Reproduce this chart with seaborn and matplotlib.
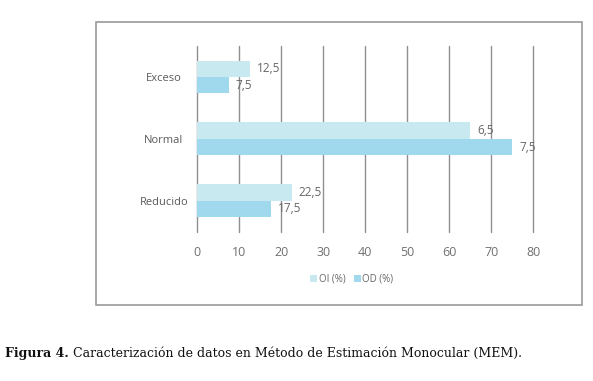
import matplotlib
matplotlib.use("Agg")
import matplotlib.pyplot as plt
import seaborn as sns
import pandas as pd
from matplotlib.patches import Rectangle, Patch

categories = ["Exceso", "Normal", "Reducido"]
oi_values = [12.5, 65, 22.5]
od_values = [7.5, 75, 17.5]
oi_labels = ["12,5", "6,5", "22,5"]
od_labels = ["7,5", "7,5", "17,5"]
series_names = ["OI (%)", "OD (%)"]
x_ticks = [0, 10, 20, 30, 40, 50, 60, 70, 80]
caption_bold = "Figura 4."
caption_text = " Caracterización de datos en Método de Estimación Monocular (MEM)."

sns.set_theme(style="white")
plt.rcParams['font.family'] = ['Open Sans', 'DejaVu Sans']

df = pd.DataFrame({
    "cat": categories * 2,
    "val": oi_values + od_values,
    "serie": [series_names[0]] * 3 + [series_names[1]] * 3,
})
colors = {series_names[0]: "#c8e9f0", series_names[1]: "#a0d9ee"}

W, H = 593, 381
fig = plt.figure(figsize=(W / 100, H / 100), dpi=100)
ax = fig.add_axes([197.3 / W, 1 - 231.7 / H, (533.3 - 197.3) / W, (231.7 - 46) / H])

sns.barplot(data=df, y="cat", x="val", hue="serie", orient="h", palette=colors,
            width=0.53, saturation=1, ax=ax, legend=False, linewidth=0, edgecolor="none")

ax.set_xlim(0, 80)
ax.set_ylim(2.5, -0.5)
ax.set_xticks(x_ticks)
ax.set_xlabel("")
ax.set_ylabel("")
for s in ax.spines.values():
    s.set_visible(False)
ax.grid(axis="x", color="#8f8f8f", linewidth=1.0)
for gl in ax.get_xgridlines():
    gl.set_clip_on(False)
ax.set_axisbelow(True)
ax.tick_params(axis="x", length=0, pad=10, labelsize=9, labelcolor="#707070")
ax.tick_params(axis="y", length=0, pad=24, labelsize=8, labelcolor="#5a5a5a")
for lbl in ax.get_yticklabels():
    lbl.set_ha("center")

for container, labels in zip(ax.containers, [oi_labels, od_labels]):
    ax.bar_label(container, labels=labels, padding=5, fontsize=8.5, color="#666666")

handles = [Patch(facecolor=colors[n], edgecolor="none") for n in series_names]
fig.legend(handles, series_names, loc="center", bbox_to_anchor=(352 / W, 1 - 279 / H),
           ncol=2, frameon=False, fontsize=7, handlelength=0.7, handleheight=0.7,
           handletextpad=0.2, columnspacing=0.8, labelcolor="#666666")

fig.patches.append(Rectangle((96 / W, 1 - 305 / H), (581.7 - 96) / W, (305 - 21.7) / H,
                             transform=fig.transFigure, fill=False,
                             edgecolor="#9a9a9a", linewidth=1.2))

t1 = fig.text(5 / W, 1 - 353 / H, caption_bold, fontsize=9, fontweight="bold",
              family="DejaVu Serif", va="center", color="#111111")
fig.canvas.draw()
bb = t1.get_window_extent()
fig.text(bb.x1 / W, 1 - 353 / H, caption_text, fontsize=9,
         family="DejaVu Serif", va="center", color="#111111")

fig.savefig("out.png", dpi=100)
